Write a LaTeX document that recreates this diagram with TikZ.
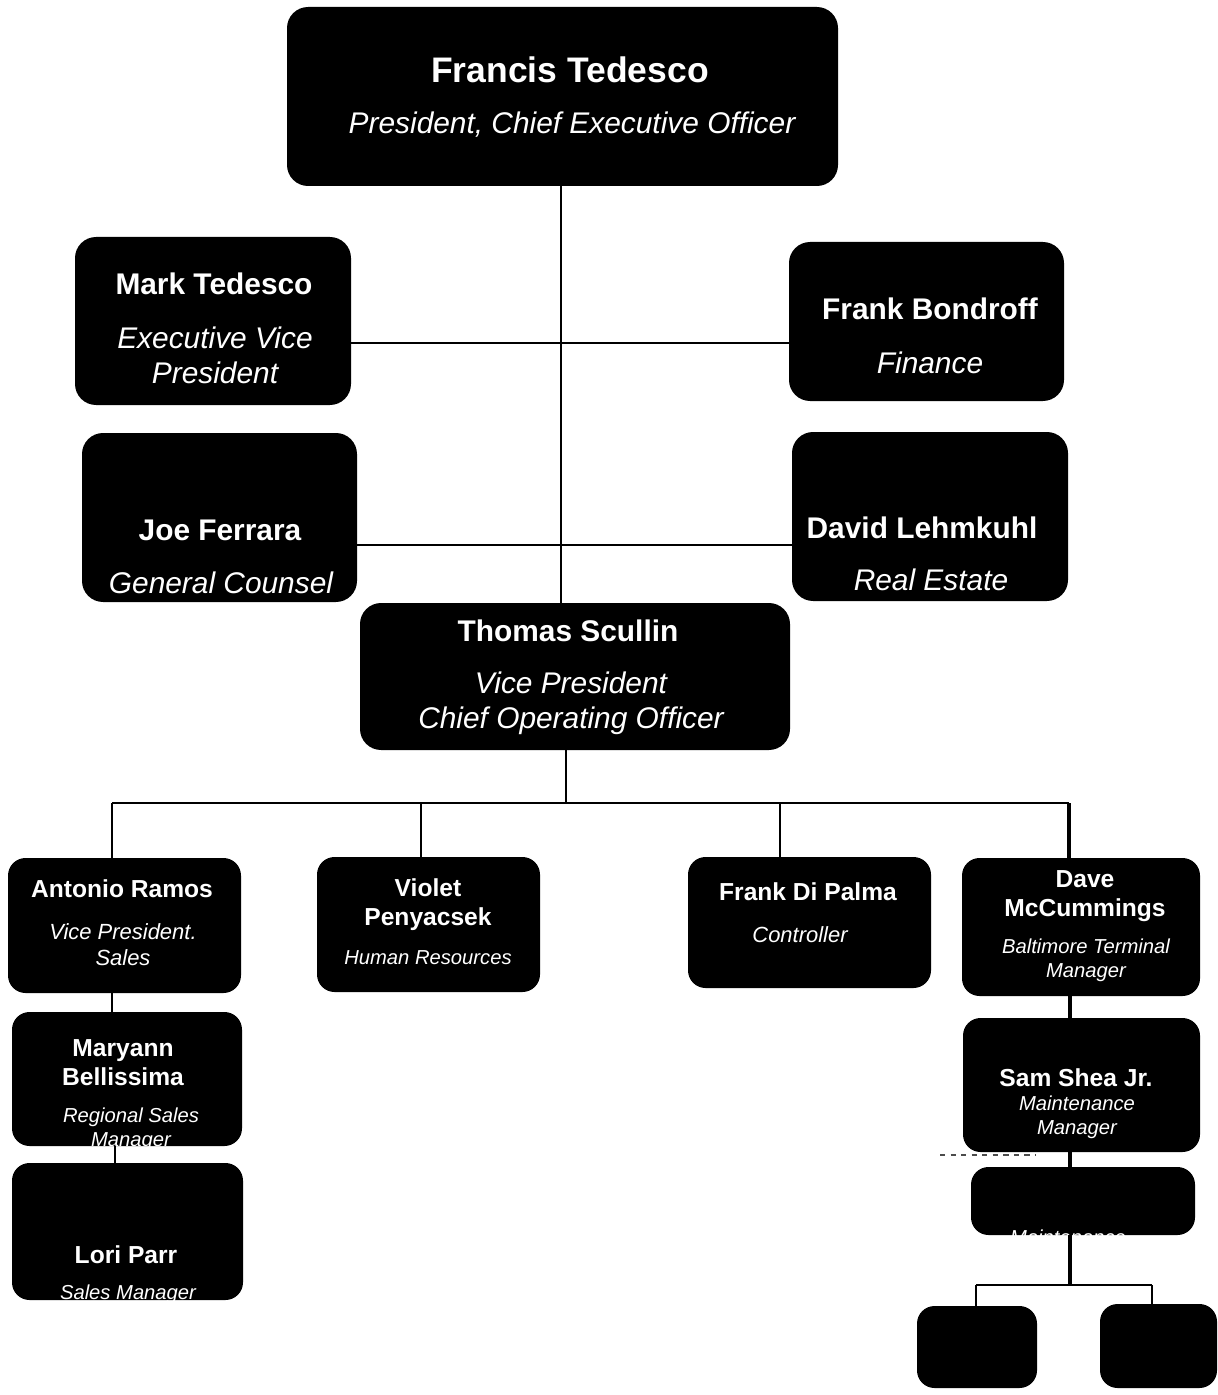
\documentclass[tikz,border=0pt]{standalone}
\usepackage{fontspec}
\setmainfont{Liberation Sans}
\usetikzlibrary{fit}

\tikzset{
  orgbox/.style={fill=black, rounded corners=12pt, inner sep=0pt},
  smallbox/.style={fill=black, rounded corners=10pt, inner sep=0pt},
  conn/.style={black, line width=0.8pt},
  bigwho/.style={text=white, align=center, font=\bfseries\fontsize{17}{20}\selectfont},
  bigjob/.style={text=white, align=center, font=\itshape\fontsize{17}{20}\selectfont},
  smallwho/.style={text=white, align=center, font=\bfseries\fontsize{14}{16.5}\selectfont},
  smalljob/.style={text=white, align=center, font=\itshape\fontsize{11.5}{13.7}\selectfont},
}

\begin{document}
\begin{tikzpicture}[x=0.02cm,y=-0.02cm]
   \fill [white] (0,0) rectangle (1217,1395); % page
   % top level
   \node [orgbox, fit={(287,7) (838,186)}] (ceo) {};
   \node [orgbox, fit={(75,237) (351,405)}] (evp) {};
   \node [orgbox, fit={(789,242) (1064,401)}] (fin) {};
   \node [orgbox, fit={(82,433) (357,602)}] (gc) {};
   \node [orgbox, fit={(792,432) (1068,601)}] (re) {};
   \node [orgbox, fit={(360,603) (790,750)}] (coo) {};
   \node [text=white, font=\bfseries\fontsize{20.2}{24}\selectfont] (ceoN) at (570,70) {Francis Tedesco};
   \node [bigjob] (ceoT) at (572,125) {President, Chief Executive Officer};
   \node [bigwho] (evpN) at (214,284) {Mark Tedesco};
   \node [bigjob] (evpT) at (215,355) {Executive Vice\\President};
   \node [bigwho] (finN) at (930,309) {Frank Bondroff};
   \node [bigjob] (finT) at (930,363) {Finance};
   \node [bigwho] (gcN) at (220,530) {Joe Ferrara};
   \node [bigjob] (gcT) at (221,583) {General Counsel};
   \node [bigwho] (reN) at (922,528) {David Lehmkuhl};
   \node [bigjob] (reT) at (931,580) {Real Estate};
   \node [bigwho] (cooN) at (568,631) {Thomas Scullin};
   \node [bigjob] (cooT) at (571,703) {Vice President\\Chief Operating Officer};
   % second level
   \node [smallbox, fit={(8,858) (241,993)}] (ar) {};
   \node [smallbox, fit={(317,857) (540,992)}] (vp) {};
   \node [smallbox, fit={(688,857) (931,988)}] (fdp) {};
   \node [smallbox, fit={(962,858) (1200,996)}] (dm) {};
   \node [smallwho] (arN) at (122,889) {Antonio Ramos};
   \node [smalljob, font=\itshape\fontsize{12.5}{14.7}\selectfont] (arT) at (123,945) {Vice President.\\Sales};
   \node [smallwho] (vpN) at (428,905) {Violet\\Penyacsek};
   \node [smalljob] (vpT) at (428,958) {Human Resources};
   \node [smallwho] (fdpN) at (808,892) {Frank Di Palma};
   \node [smalljob, font=\itshape\fontsize{12.5}{14.7}\selectfont] (fdpT) at (800,935) {Controller};
   \node [smallwho] (dmN) at (1085,896) {Dave\\McCummings};
   \node [smalljob] (dmT) at (1086,960) {Baltimore Terminal\\Manager};
   % lower boxes
   \node [smallbox, fit={(12,1012) (242,1146)}] (mb) {};
   \node [smallbox, fit={(12,1163) (243,1300)}] (lp) {};
   \node [smallbox, fit={(963,1018) (1200,1152)}] (ss) {};
   \node [smallbox, fit={(971,1167) (1195,1235)}] (mt) {};
   \node [smallbox, fit={(917,1306) (1037,1388)}] (w1) {};
   \node [smallbox, fit={(1100,1304) (1217,1388)}] (w2) {};
   \node [smallwho] (mbN) at (123,1063) {Maryann\\Bellissima};
   \node [smalljob] (mbT) at (131,1129) {Regional Sales\\Manager};
   \node [smallwho] (lpN) at (126,1255) {Lori Parr};
   \node [smalljob] (lpT) at (128,1294) {Sales Manager};
   \node [smallwho] (ssN) at (1076,1078) {Sam Shea Jr.};
   \node [smalljob] (ssT) at (1077,1117) {Maintenance\\Manager};
   \node [smalljob] (mtT) at (1068,1237) {Maintenance};
   % connectors
   \coordinate (c0) at (561,0);
   \coordinate (c1) at (115,0);
   \coordinate (r1) at (0,343);
   \coordinate (r2) at (0,545);
   \coordinate (d0) at (566,803);
   \coordinate (d1) at (112,803);
   \coordinate (d2) at (421,803);
   \coordinate (d3) at (780,803);
   \coordinate (d4) at (1069,803);
   \coordinate (e0) at (1070,1285);
   \coordinate (e1) at (976,1285);
   \coordinate (e2) at (1152,1285);
   \draw [conn] (c0 |- ceo.south) -- (c0 |- coo.north);
   \draw [conn] (evp.east |- r1) -- (fin.west |- r1);
   \draw [black, line width=1.7pt] (gc.east |- r2) -- (re.west |- r2);
   \draw [conn] (coo.south -| d0) -- (d0);
   \draw [conn, line width=1.2pt] (d1) -- (d4);
   \draw [conn, line width=1.2pt] (d1) -- (d1 |- ar.north);
   \draw [conn, line width=1.4pt] (d2) -- (d2 |- vp.north);
   \draw [conn] (d3) -- (d3 |- fdp.north);
   \draw [black, line width=2.2pt] (d4) -- (d4 |- dm.north);
   \draw [conn] (d1 |- ar.south) -- (d1 |- mb.north);
   \draw [conn] (c1 |- mb.south) -- (c1 |- lp.north);
   \draw [black, line width=2pt] (e0 |- dm.south) -- (e0 |- ss.north);
   \draw [black, line width=2pt] (e0 |- ss.south) -- (e0 |- mt.north);
   \draw [black, line width=2.2pt] (e0 |- mt.south) -- (e0);
   \draw [conn] (e1) -- (e2);
   \draw [conn, line width=1.2pt] (e1) -- (e1 |- w1.north);
   \draw [conn, line width=1.2pt] (e2) -- (e2 |- w2.north);
   \draw [black!70, dashed, line width=0.6pt] (940,1155) -- (1035,1155); % stray mark
\end{tikzpicture}
\end{document}
